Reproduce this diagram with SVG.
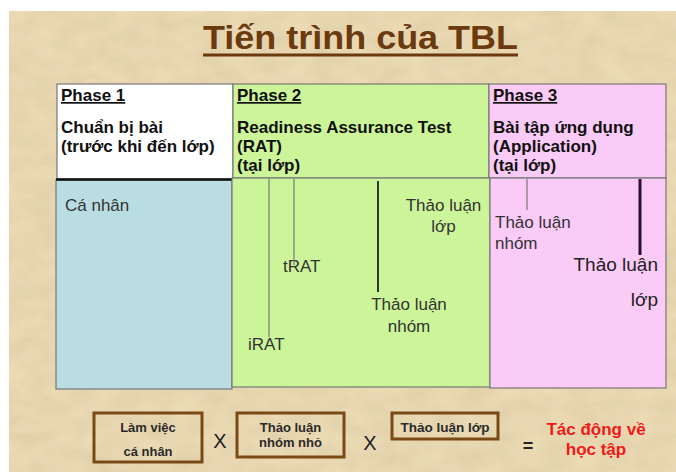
<svg xmlns="http://www.w3.org/2000/svg" width="676" height="472" viewBox="0 0 676 472">
<defs>
<filter id="paper" x="0" y="0" width="100%" height="100%">
<feTurbulence type="fractalNoise" baseFrequency="0.035 0.06" numOctaves="3" seed="4" result="n"/>
<feColorMatrix in="n" type="matrix" values="0 0 0 0 0.55  0 0 0 0 0.45  0 0 0 0 0.25  0 0 0 0.45 -0.08" result="c"/>
<feComposite in="c" in2="SourceGraphic" operator="in" result="t"/>
<feMerge><feMergeNode in="SourceGraphic"/><feMergeNode in="t"/></feMerge>
</filter>
<style>
.hd{font-family:"Liberation Sans",Arial,sans-serif;font-weight:bold;font-size:17px;fill:#111}
.ph{text-decoration:underline}
.bd{font-family:"Liberation Sans",Arial,sans-serif;font-size:17px;fill:#333}
.big{font-size:19px;fill:#222}
.bx{fill:none;stroke:#7a4a14;stroke-width:3}
.bt{font-family:"Liberation Sans",Arial,sans-serif;font-weight:bold;font-size:13px;fill:#2a2a2a;text-anchor:middle}
.op{font-family:"Liberation Sans",Arial,sans-serif;font-size:20px;fill:#222;text-anchor:middle}
.res{font-family:"Liberation Sans",Arial,sans-serif;font-weight:bold;font-size:17px;fill:#f01818;text-anchor:middle}
.cell{stroke:#777;stroke-width:1.2}
.thin{stroke:#777;stroke-width:1.2}
</style>
</defs>
<rect x="0" y="0" width="676" height="472" fill="#fff"/>
<rect x="9" y="11" width="667" height="461" fill="#ecdcb6" filter="url(#paper)"/>

<g id="title">
<text x="360.5" y="49" text-anchor="middle" font-family="'Liberation Sans',Arial,sans-serif" font-weight="bold" font-size="34" fill="#6b3a0e" textLength="315" lengthAdjust="spacingAndGlyphs">Tiến trình của TBL</text>
<rect x="203" y="53.5" width="315" height="3" fill="#6b3a0e"/>
</g>

<g id="phase1">
<rect class="cell" x="57" y="84" width="176" height="95" fill="#fff"/>
<text class="hd ph" x="61" y="101">Phase 1</text>
<text class="hd" x="61" y="133">Chuẩn bị bài</text>
<text class="hd" x="61" y="152">(trước khi đến lớp)</text>
</g>
<g id="phase2">
<rect class="cell" x="233" y="84" width="256" height="94" fill="#ccf59a"/>
<text class="hd ph" x="237" y="101">Phase 2</text>
<text class="hd" x="237" y="133">Readiness Assurance Test</text>
<text class="hd" x="237" y="152">(RAT)</text>
<text class="hd" x="237" y="171">(tại lớp)</text>
</g>
<g id="phase3">
<rect class="cell" x="489" y="84" width="177" height="94" fill="#fbcbf7"/>
<text class="hd ph" x="493" y="101">Phase 3</text>
<text class="hd" x="493" y="133">Bài tập ứng dụng</text>
<text class="hd" x="493" y="152">(Application)</text>
<text class="hd" x="493" y="171">(tại lớp)</text>
</g>

<g id="individual">
<rect class="cell" x="56" y="180" width="176" height="209" fill="#b9dde3"/>
<line x1="56" y1="179.5" x2="232" y2="179.5" stroke="#111" stroke-width="2.5"/>
<text class="bd" x="65" y="211">Cá nhân</text>
</g>

<g id="rat-body">
<rect class="cell" x="232" y="178" width="258" height="209" fill="#ccf59a"/>
<text class="bd" x="248" y="350">iRAT</text>
<text class="bd" x="283" y="272">tRAT</text>
<text class="bd" x="409" y="310" text-anchor="middle">Thảo luận</text>
<text class="bd" x="409" y="332" text-anchor="middle">nhóm</text>
<text class="bd" x="443.5" y="211" text-anchor="middle">Thảo luận</text>
<text class="bd" x="443.5" y="232" text-anchor="middle">lớp</text>
</g>

<g id="application-body">
<rect class="cell" x="490" y="178" width="176" height="210" fill="#fbcbf7"/>
<text class="bd" x="495" y="228">Thảo luận</text>
<text class="bd" x="495" y="249">nhóm</text>
<text class="bd big" x="658" y="271" text-anchor="end">Thảo luận</text>
<text class="bd big" x="658" y="306" text-anchor="end">lớp</text>
</g>

<g id="connectors">
<line class="thin" x1="269" y1="179" x2="269" y2="337"/>
<line class="thin" x1="294" y1="179" x2="294" y2="265"/>
<line x1="378" y1="181" x2="378" y2="292" stroke="#333" stroke-width="2"/>
<line class="thin" x1="527" y1="179" x2="527" y2="210"/>
<line x1="640" y1="179" x2="640" y2="255" stroke="#2a1030" stroke-width="3"/>
</g>

<g id="formula">
<g id="box-individual">
<rect class="bx" x="94" y="413" width="108" height="49"/>
<text class="bt" x="148" y="432">Làm việc</text>
<text class="bt" x="148" y="456">cá nhân</text>
</g>
<text class="op" x="220" y="448">X</text>
<g id="box-group">
<rect class="bx" x="237" y="413" width="107" height="44"/>
<text class="bt" x="290.5" y="432">Thảo luận</text>
<text class="bt" x="290.5" y="447">nhóm nhỏ</text>
</g>
<text class="op" x="370" y="450">X</text>
<g id="box-class">
<rect class="bx" x="392" y="413" width="106" height="26"/>
<text class="bt" x="445" y="432" style="font-size:13.5px">Thảo luận lớp</text>
</g>
<text class="op" x="528" y="452" style="font-weight:bold;font-size:18px">=</text>
<g id="result">
<text class="res" x="596" y="435">Tác động về</text>
<text class="res" x="596" y="455">học tập</text>
</g>
</g>
</svg>
